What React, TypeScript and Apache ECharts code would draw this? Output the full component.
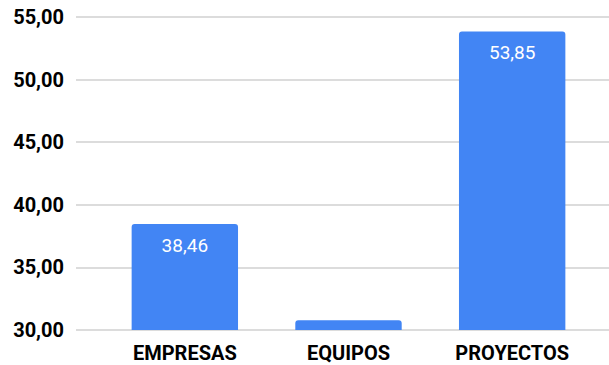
import React, { useEffect, useRef } from "react";
import * as echarts from "echarts";

const categories = ["EMPRESAS", "EQUIPOS", "PROYECTOS"];
const values = [38.46, 30.77, 53.85];
const showValueLabel = [true, false, true];
const yMin = 30;
const yMax = 55;
const yInterval = 5;

const fmt = (v: number) => v.toFixed(2).replace(".", ",");

export default function App() {
  const ref = useRef<HTMLDivElement>(null);
  useEffect(() => {
    if (!ref.current) return;
    const chart = echarts.init(ref.current, null, { renderer: "svg" });
    const font = "Roboto, Arial, sans-serif";
    chart.setOption({
      animation: false,
      backgroundColor: "#ffffff",
      grid: [
        { left: 76, right: 0, top: 17, bottom: 35 },
        { left: 103, right: 15, top: 17, bottom: 35 },
      ],
      xAxis: [
        { type: "category", gridIndex: 0, data: categories, show: false },
        {
          type: "category",
          gridIndex: 1,
          data: categories,
          axisLine: { show: false },
          axisTick: { show: false },
          axisLabel: {
            color: "#000000",
            fontWeight: "bold",
            fontSize: 20,
            fontFamily: font,
            margin: 13,
          },
        },
      ],
      yAxis: [
        {
          type: "value",
          gridIndex: 0,
          min: yMin,
          max: yMax,
          interval: yInterval,
          axisLine: { show: false },
          axisTick: { show: false },
          axisLabel: {
            color: "#000000",
            fontWeight: "bold",
            fontSize: 20,
            fontFamily: font,
            margin: 12,
            formatter: (v: number) => fmt(v),
          },
          splitLine: { lineStyle: { color: "#d0d0d0", width: 1.5 } },
        },
        {
          type: "value",
          gridIndex: 1,
          min: yMin,
          max: yMax,
          interval: yInterval,
          show: false,
          splitLine: { show: false },
        },
      ],
      series: [
        {
          type: "bar",
          xAxisIndex: 1,
          yAxisIndex: 1,
          barCategoryGap: "35%",
          data: values.map((v, i) => ({
            value: v,
            label: { show: showValueLabel[i] },
          })),
          itemStyle: { color: "#4285f4", borderRadius: [3, 3, 0, 0] },
          label: {
            position: "insideTop",
            distance: 12,
            color: "#ffffff",
            fontSize: 19,
            fontFamily: font,
            formatter: (p: any) => fmt(p.value),
          },
        },
      ],
    });
    return () => chart.dispose();
  }, []);
  return (
    <div
      ref={ref}
      style={{ position: "fixed", left: 0, top: 0, width: 609, height: 365 }}
    />
  );
}
